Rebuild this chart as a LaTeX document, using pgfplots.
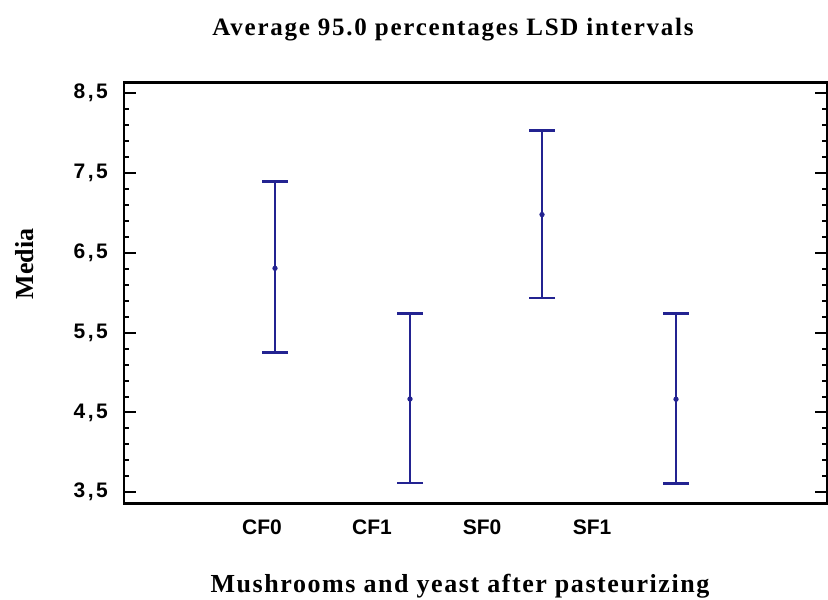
\documentclass[border=0pt]{standalone}
\usepackage{pgfplots}
\pgfplotsset{compat=1.18}
\usepackage{fontspec}
\setmainfont{Liberation Serif}
\newfontfamily\tickfont{Liberation Sans}
\newfontfamily\ytickfont[LetterSpace=12]{Liberation Sans}
\newfontfamily\titlefont[LetterSpace=7]{Liberation Serif}
\newfontfamily\labelfont[LetterSpace=6]{Liberation Serif}
\definecolor{barblue}{RGB}{35,35,145}

\begin{document}
\begin{tikzpicture}
% page frame: 828 x 599 px, 1 px = 0.5pt
\path[use as bounding box] (0,0) rectangle (414pt,299.5pt);
\begin{axis}[
    at={(62pt,47.85pt)}, anchor=south west,
    scale only axis, width=351.35pt, height=210.3pt,
    xmin=124, xmax=826.7,
    ymin=3.362, ymax=8.633,
    xtick={262,372,482,592},
    xticklabels={CF0,CF1,SF0,SF1},
    ytick={3.5,4.5,5.5,6.5,7.5,8.5},
    yticklabels={{3,5},{4,5},{5,5},{6,5},{7,5},{8,5}},
    minor y tick num=4,
    ytick pos=both, yticklabel pos=left,
    tick align=inside,
    major tick length=6pt, minor tick length=2.5pt,
    tick style={black, line width=1pt},
    xtick style={draw=none},
    axis line style={line width=1.2pt},
    /pgf/number format/assume math mode=true,
    xticklabel style={font=\tickfont\bfseries\fontsize{10.5}{12}\selectfont, yshift=-4.5pt},
    yticklabel style={font=\ytickfont\bfseries\fontsize{10.5}{12}\selectfont, xshift=-4.5pt},
  ]
  % 95% LSD intervals: mean with upper / lower half-widths
  \addplot[barblue, only marks, mark=*, mark size=1.1pt,
      error bars/.cd, y dir=both, y explicit,
      error bar style={barblue, line width=1.3pt},
      error mark options={barblue, line width=1.3pt, mark size=6.5pt, rotate=90}]
    coordinates {
      (275,6.307) += (0,1.085) -= (0,1.058)
      (410,4.669) += (0,1.074) -= (0,1.053)
      (542,6.980) += (0,1.051) -= (0,1.045)
      (676,4.666) += (0,1.077) -= (0,1.056)
    };
\end{axis}
\node[anchor=base, font=\titlefont\bfseries\fontsize{12.5}{14}\selectfont] at (226.5pt,281.5pt)
  {Average 95.0 percentages LSD intervals};
\node[anchor=base, font=\labelfont\bfseries\fontsize{13}{15}\selectfont] at (230pt,3.5pt)
  {Mushrooms and yeast after pasteurizing};
\node[rotate=90, font=\bfseries\fontsize{13}{15}\selectfont] at (12.5pt,167.5pt) {Media};
\end{tikzpicture}
\end{document}
